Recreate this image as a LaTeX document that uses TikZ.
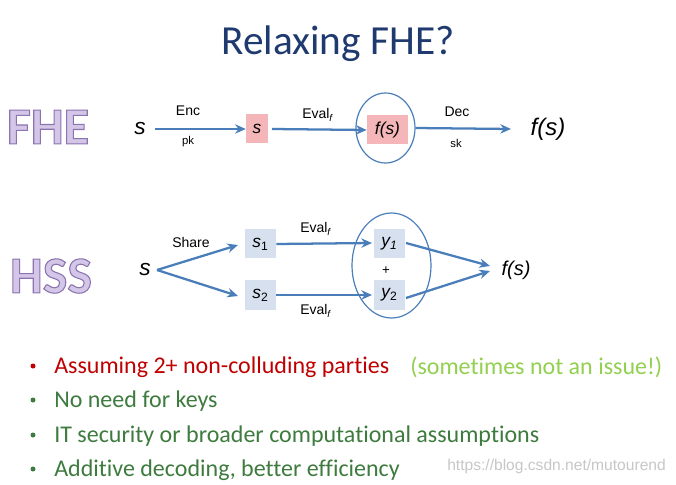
\documentclass[tikz,border=0pt]{standalone}
\usepackage{fontspec}
\setmainfont{Liberation Sans}
\newfontfamily\titlefont{Carlito}
\newfontfamily\bulletfont[Ligatures={NoCommon}]{Carlito}
\usetikzlibrary{arrows.meta,shapes.geometric}
\definecolor{arrowblue}{HTML}{4A7EBB}
\definecolor{pinkbox}{HTML}{F4B6B8}
\definecolor{bluebox}{HTML}{D6E0EE}
\definecolor{titleblue}{HTML}{1F3A6E}
\definecolor{lav}{HTML}{D3C6E6}
\definecolor{redtxt}{HTML}{C00000}
\definecolor{lgreen}{HTML}{92D050}
\definecolor{dgreen}{HTML}{3E7B3E}
\newcommand{\outlinetext}[1]{{\color{lav}\special{pdf:literal 2 Tr 0.8 w 0.55 0.45 0.70 RG}#1\special{pdf:literal 0 Tr}}}
\begin{document}
\begin{tikzpicture}[x=0.75pt,y=-0.75pt,
  arr/.style={draw=arrowblue,line width=1.7pt,-{Stealth[length=8pt,width=7pt]}},
  lbl/.style={inner sep=0pt,font=\fontsize{10.5}{12}\selectfont},
  sublbl/.style={inner sep=0pt,font=\fontsize{8.5}{10}\selectfont},
  var/.style={inner sep=0pt,font=\fontsize{17}{20}\selectfont\itshape},
  pbox/.style={fill=pinkbox,inner sep=0pt,minimum height=29*0.75pt,font=\fontsize{13}{15}\selectfont\itshape},
  bbox/.style={fill=bluebox,inner sep=0pt,minimum width=31*0.75pt,minimum height=29*0.75pt,font=\fontsize{13}{15}\selectfont\itshape},
  ring/.style={draw=arrowblue,line width=0.9pt,ellipse,inner sep=0pt},
  big/.style={inner sep=0pt,font=\titlefont\bfseries\fontsize{39}{40}\selectfont},
  bul/.style={anchor=west,inner sep=0pt,font=\bulletfont\fontsize{18}{20}\selectfont},
  dot/.style={circle,inner sep=0pt,minimum size=5*0.75pt}
]
\useasboundingbox (0,0) rectangle (676,485);
\fill[white] (0,0) rectangle (676,485);

% title
\node[inner sep=0pt,font=\titlefont\fontsize{31}{34}\selectfont,text=titleblue] (title) at (338,44) {Relaxing FHE?};

% side labels
\node[big] (fhe) at (48,127) {\outlinetext{FHE}};
\node[big] (hss) at (51,276) {\outlinetext{HSS}};

% FHE row
\node[var] (s0) at (140,129) {s};
\node[pbox,minimum width=22*0.75pt] (sbox) at (257,129) {s};
\node[pbox,minimum width=41*0.75pt] (fsbox) at (387.5,130) {f(s)};
\node[ring,minimum width=59*0.75pt,minimum height=70*0.75pt] (c1) at (385.5,128) {};
\node[var,font=\fontsize{18}{20}\selectfont\itshape] (fs1) at (548,129) {f(s)};
\coordinate (a0) at (155,129);
\coordinate (a1) at (272,129);
\coordinate (a2) at (511,129);
\draw[arr] (a0) -- (sbox.west);
\draw[arr] (a1) -- (fsbox.west);
\draw[arr] (c1.east) -- (a2);
\node[lbl] (enc) at (188,111) {Enc};
\node[sublbl] (pk) at (188,142) {pk};
\node[lbl] (ev1) at (318,115) {Eval\textsubscript{\textit{f}}};
\node[lbl] (dec) at (457,112) {Dec};
\node[sublbl] (sk) at (456,143) {sk};

% HSS row
\node[var] (hs) at (145,270) {s};
\node[bbox] (s1) at (260.5,244) {s\textsubscript{\normalfont 1}};
\node[bbox] (s2) at (260.5,295) {s\textsubscript{\normalfont 2}};
\node[bbox] (y1) at (389.5,243.5) {y\textsubscript{1}};
\node[bbox] (y2) at (389.5,295) {y\textsubscript{\normalfont 2}};
\node[ring,minimum width=79*0.75pt,minimum height=105*0.75pt] (c2) at (391.5,265.5) {};
\node[inner sep=0pt,font=\fontsize{10}{12}\selectfont] (plus) at (386,271) {+};
\node[var,font=\fontsize{15}{18}\selectfont\itshape] (fs2) at (516,270) {f(s)};
\coordinate (h0) at (157,270);
\coordinate (h1) at (238,245);
\coordinate (h2) at (238,296);
\draw[arr] (h0) -- (h1);
\draw[arr] (h0) -- (h2);
\coordinate (e1) at (372,243);
\coordinate (e2) at (372,295);
\draw[arr] (s1.east) -- (e1);
\draw[arr] (s2.east) -- (e2);
\coordinate (f1) at (406,243);
\coordinate (f2) at (406,298);
\coordinate (g1) at (490,266);
\coordinate (g2) at (490,271);
\draw[arr] (f1) -- (g1);
\draw[arr] (f2) -- (g2);
\node[lbl] (share) at (191,242) {Share};
\node[lbl] (ev2) at (316,229) {Eval\textsubscript{\textit{f}}};
\node[lbl] (ev3) at (316,311) {Eval\textsubscript{\textit{f}}};

% bullets
\node[dot,fill=redtxt] (d1) at (33,366) {};
\node[dot,fill=dgreen] (d2) at (33,400) {};
\node[dot,fill=dgreen] (d3) at (33,435) {};
\node[dot,fill=dgreen] (d4) at (33,469) {};
\node[bul,text=redtxt] (b1) at (54,367) {Assuming 2+ non-colluding parties};
\node[bul,text=lgreen] (b1b) at (410,367) {(sometimes not an issue!)};
\node[bul,text=dgreen] (b2) at (54,401) {No need for keys};
\node[bul,text=dgreen] (b3) at (54,436) {IT security or broader computational assumptions};
\node[bul,text=dgreen] (b4) at (54,470) {Additive decoding, better efficiency};
\node[anchor=west,inner sep=0pt,text=black!22,font=\fontsize{11.7}{13}\selectfont] (wm) at (447,466) {https://blog.csdn.net/mutourend};
\end{tikzpicture}
\end{document}
